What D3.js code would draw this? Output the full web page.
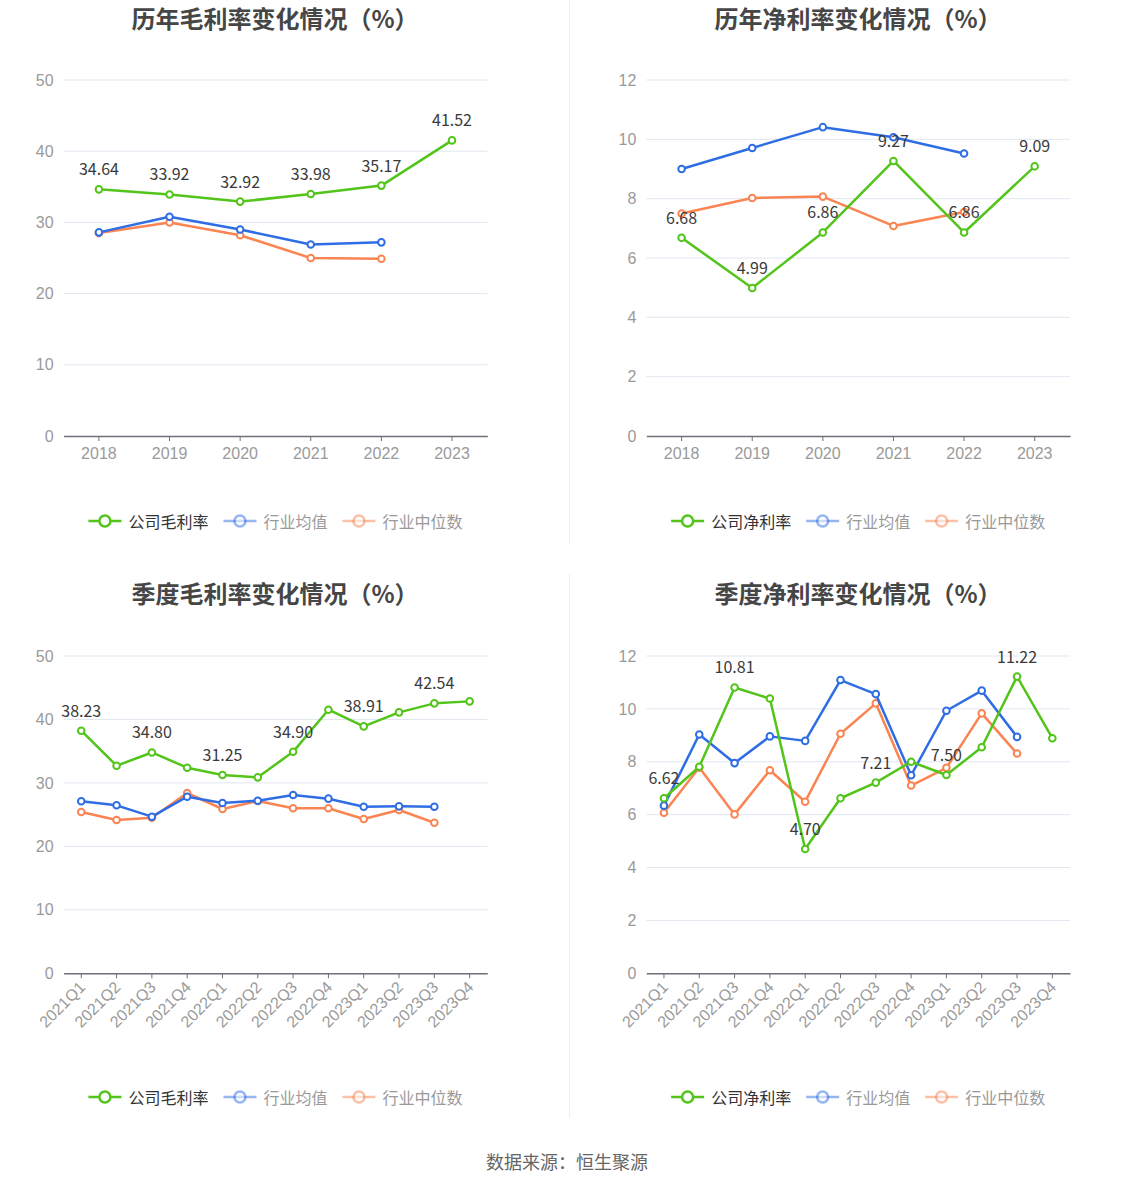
<!DOCTYPE html>
<html><head><meta charset="utf-8">
<script src="https://cdn.jsdelivr.net/npm/d3@7"></script>
<style>
html,body{margin:0;padding:0;background:#fff;}
svg{display:block;font-family:"Noto Sans CJK SC","Noto Sans",sans-serif;}
</style></head>
<body><svg id="c" width="1134" height="1188"></svg>
<script>
// ---- data ----
const years = ["2018","2019","2020","2021","2022","2023"];
const quarters = ["2021Q1","2021Q2","2021Q3","2021Q4","2022Q1","2022Q2","2022Q3","2022Q4","2023Q1","2023Q2","2023Q3","2023Q4"];

const grossYearCompany = [34.64, 33.92, 32.92, 33.98, 35.17, 41.52];
const grossYearAvg     = [28.6, 30.8, 29.0, 26.9, 27.2];
const grossYearMedian  = [28.5, 30.0, 28.2, 25.0, 24.9];

const netYearCompany = [6.68, 4.99, 6.86, 9.27, 6.86, 9.09];
const netYearAvg     = [9.0, 9.71, 10.41, 10.07, 9.52];
const netYearMedian  = [7.5, 8.02, 8.07, 7.08, 7.55];

const grossQCompany = [38.23, 32.71, 34.80, 32.40, 31.25, 30.88, 34.90, 41.54, 38.91, 41.12, 42.54, 42.85];
const grossQAvg     = [27.1, 26.47, 24.68, 27.83, 26.83, 27.2, 28.1, 27.52, 26.25, 26.31, 26.25];
const grossQMedian  = [25.41, 24.15, 24.52, 28.41, 25.89, 27.15, 26.0, 26.0, 24.31, 25.73, 23.73];

const netQCompany = [6.62, 7.81, 10.81, 10.39, 4.70, 6.62, 7.21, 8.0, 7.50, 8.55, 11.22, 8.89];
const netQAvg     = [6.34, 9.03, 7.95, 8.96, 8.79, 11.09, 10.56, 7.49, 9.93, 10.69, 8.94];
const netQMedian  = [6.07, 7.78, 6.01, 7.68, 6.49, 9.06, 10.21, 7.1, 7.77, 9.83, 8.31];

const yTicksGross = [0,10,20,30,40,50];
const yTicksNet = [0,2,4,6,8,10,12];

const titles = ["历年毛利率变化情况（%）","历年净利率变化情况（%）","季度毛利率变化情况（%）","季度净利率变化情况（%）"];
const legendGross = ["公司毛利率","行业均值","行业中位数"];
const legendNet = ["公司净利率","行业均值","行业中位数"];
const sourceText = "数据来源：恒生聚源";

// ---- styles ----
const GREEN = "#52c41a", BLUE = "#2f6de4", ORANGE = "#fa8452";
const svg = d3.select("#c");

// dividers
svg.append("line").attr("x1",569.5).attr("x2",569.5).attr("y1",0).attr("y2",543).attr("stroke","#eeeeee").attr("stroke-width",1);
svg.append("line").attr("x1",569.5).attr("x2",569.5).attr("y1",574).attr("y2",1118).attr("stroke","#eeeeee").attr("stroke-width",1);

const charts = [
  {cats: years, series:[grossYearCompany,grossYearAvg,grossYearMedian], ticks:yTicksGross, max:50, legend:legendGross,
   x0:63.6, x1:487.3, yT:80, yB:436, titleX:275, titleY:17, legendY:521, rotate:false, labelEvery:1, title:titles[0]},
  {cats: years, series:[netYearCompany,netYearAvg,netYearMedian], ticks:yTicksNet, max:12, legend:legendNet,
   x0:646.3, x1:1070, yT:80, yB:436, titleX:858, titleY:17, legendY:521, rotate:false, labelEvery:1, title:titles[1]},
  {cats: quarters, series:[grossQCompany,grossQAvg,grossQMedian], ticks:yTicksGross, max:50, legend:legendGross,
   x0:63.6, x1:487.3, yT:656, yB:973.3, titleX:275, titleY:592, legendY:1097, rotate:true, labelEvery:2, title:titles[2]},
  {cats: quarters, series:[netQCompany,netQAvg,netQMedian], ticks:yTicksNet, max:12, legend:legendNet,
   x0:646.3, x1:1070, yT:656, yB:973.3, titleX:858, titleY:592, legendY:1097, rotate:true, labelEvery:2, title:titles[3]}
];
const colors = [GREEN, BLUE, ORANGE];

charts.forEach(c => {
  const g = svg.append("g");
  const x = d3.scaleBand().domain(c.cats).range([c.x0, c.x1]);
  const y = d3.scaleLinear().domain([0, c.max]).range([c.yB, c.yT]);
  const cx = d => x(d) + x.bandwidth()/2;

  // title
  g.append("text").attr("x", c.titleX).attr("y", c.titleY).attr("text-anchor","middle")
    .attr("dominant-baseline","central").attr("font-size",24).attr("font-weight","bold").attr("fill","#464646").text(c.title);

  // gridlines
  g.selectAll(".grid").data(c.ticks.filter(t=>t>0)).enter().append("line")
    .attr("x1",c.x0).attr("x2",c.x1).attr("y1",d=>y(d)).attr("y2",d=>y(d))
    .attr("stroke","#e0e6f1").attr("stroke-width",1);

  // y axis labels
  const ya = g.append("g").attr("transform",`translate(${c.x0},0)`)
    .call(d3.axisLeft(y).tickValues(c.ticks).tickSize(0).tickPadding(10));
  ya.select(".domain").remove();
  ya.selectAll("text").attr("font-size",16).attr("fill","#9a9a9a").attr("font-family","inherit");

  // x axis
  const xa = g.append("g").attr("transform",`translate(0,${c.yB})`)
    .call(d3.axisBottom(x).tickSizeOuter(0).tickSizeInner(5).tickPadding(7));
  xa.select(".domain").attr("stroke","#6e7079").attr("stroke-width",1.5);
  xa.selectAll(".tick line").attr("stroke","#6e7079");
  const xt = xa.selectAll("text").attr("font-size",16).attr("fill","#9a9a9a").attr("font-family","inherit");
  if (c.rotate) {
    xt.attr("text-anchor","end").attr("dy","0.35em").attr("y",0)
      .attr("transform","translate(1,11) rotate(-45)");
  } else {
    xt.attr("dy","0.71em");
  }

  // lines (draw median, avg, then company on top)
  [2,1,0].forEach(si => {
    const vals = c.series[si];
    const pts = vals.map((v,i)=>[cx(c.cats[i]), y(v)]);
    g.append("path").attr("d", d3.line()(pts)).attr("fill","none")
      .attr("stroke",colors[si]).attr("stroke-width",2.5).attr("stroke-linejoin","round");
    g.selectAll(null).data(pts).enter().append("circle")
      .attr("cx",d=>d[0]).attr("cy",d=>d[1]).attr("r",3.3)
      .attr("fill","#fff").attr("stroke",colors[si]).attr("stroke-width",2);
  });

  // data labels for company
  c.series[0].forEach((v,i) => {
    if (i % c.labelEvery !== 0) return;
    g.append("text").attr("x",cx(c.cats[i])).attr("y",y(v)-14).attr("text-anchor","middle")
      .attr("font-size",16).attr("fill","#3a3a3a").text(v.toFixed(2));
  });

  // legend
  const lg = g.append("g");
  let xpos = 0;
  c.legend.forEach((name,i) => {
    const it = lg.append("g").attr("transform",`translate(${xpos},0)`);
    const op = i===0 ? 1 : 0.5;
    it.append("line").attr("x1",0).attr("x2",33).attr("y1",0).attr("y2",0)
      .attr("stroke",colors[i]).attr("stroke-width",2.5).attr("opacity",op);
    it.append("circle").attr("cx",16.5).attr("cy",0).attr("r",5.5).attr("fill","#fff")
      .attr("stroke",colors[i]).attr("stroke-width",2.5).attr("opacity",op);
    const t = it.append("text").attr("x",40).attr("y",0).attr("dominant-baseline","central")
      .attr("font-size",16).attr("fill", i===0 ? "#333" : "#999").text(name);
    const w = t.node().getComputedTextLength();
    xpos += 40 + w + 15;
  });
  const totalW = xpos - 15;
  const centerX = (c.x0 + c.x1)/2;
  lg.attr("transform",`translate(${centerX - totalW/2},${c.legendY})`);
});

// source
svg.append("text").attr("x",567).attr("y",1161).attr("text-anchor","middle").attr("dominant-baseline","central")
  .attr("font-size",18).attr("fill","#666").text(sourceText);
</script></body></html>
